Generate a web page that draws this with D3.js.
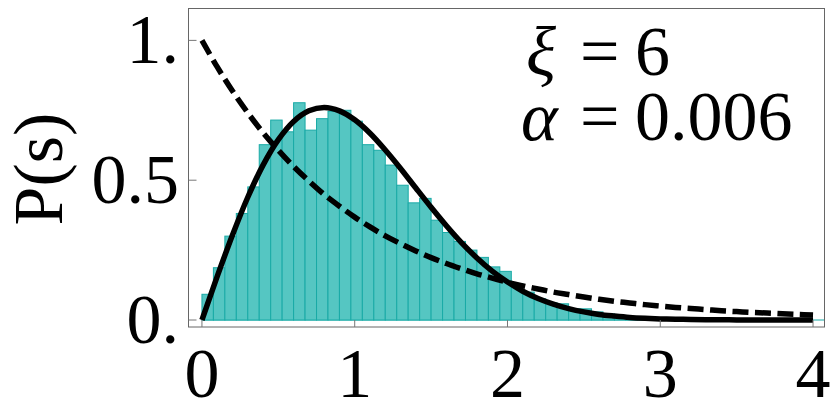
<!DOCTYPE html>
<html lang="en">
<head>
    <meta charset="UTF-8">
    <title>P(s) level spacing</title>
    <script src="https://d3js.org/d3.v7.min.js"></script>
    <style>
        body {
            margin: 0;
            background: #fff;
        }
        .bar {
            fill: #55c6c2;
            stroke: #19aaa6;
            stroke-width: 1;
        }
        .frame {
            fill: none;
            stroke: #666;
            stroke-width: 1;
        }
        .tick {
            stroke: #777;
            stroke-width: 1;
        }
    </style>
</head>
<body>
    <svg id="chart" width="830" height="413"></svg>

    <script>
        // histogram bins (width 0.075, starting at s = 0)
        const binWidth = 0.075;
        const binHeights = [
            0.092, 0.187, 0.300, 0.381, 0.476, 0.627, 0.715, 0.673, 0.777, 0.679,
            0.720, 0.746, 0.750, 0.711, 0.627, 0.607, 0.554, 0.482, 0.419, 0.435,
            0.357, 0.313, 0.281, 0.250, 0.224, 0.190, 0.174, 0.130, 0.100, 0.076,
            0.061, 0.058, 0.040, 0.040, 0.029, 0.022, 0.016, 0.011, 0.008, 0.005,
            0.003, 0.002, 0.001
        ];

        // curves sampled along s
        const sValues = [
            0.0, 0.1, 0.2, 0.3, 0.4, 0.5, 0.6, 0.7, 0.8, 0.9,
            1.0, 1.1, 1.2, 1.3, 1.4, 1.5, 1.6, 1.7, 1.8, 1.9,
            2.0, 2.1, 2.2, 2.3, 2.4, 2.5, 2.6, 2.7, 2.8, 2.9,
            3.0, 3.1, 3.2, 3.3, 3.4, 3.5, 3.6, 3.7, 3.8, 3.9, 4.0
        ];
        const solidCurve = [
            0.000, 0.156, 0.304, 0.439, 0.554, 0.645, 0.710, 0.748, 0.760, 0.748,
            0.716, 0.668, 0.608, 0.542, 0.472, 0.403, 0.337, 0.276, 0.222, 0.175,
            0.136, 0.103, 0.077, 0.057, 0.041, 0.029, 0.020, 0.014, 0.009, 0.006,
            0.004, 0.003, 0.002, 0.001, 0.001, 0.000, 0.000, 0.000, 0.000, 0.000, 0.000
        ];
        const dashedCurve = [
            1.000, 0.905, 0.819, 0.741, 0.670, 0.607, 0.549, 0.497, 0.449, 0.407,
            0.368, 0.333, 0.301, 0.273, 0.247, 0.223, 0.202, 0.183, 0.165, 0.150,
            0.135, 0.122, 0.111, 0.100, 0.091, 0.082, 0.074, 0.067, 0.061, 0.055,
            0.050, 0.045, 0.041, 0.037, 0.033, 0.030, 0.027, 0.025, 0.022, 0.020, 0.018
        ];

        const xTicks = [0, 1, 2, 3, 4];
        const xTickLabels = ["0", "1", "2", "3", "4"];
        const yTicks = [0, 0.5, 1];
        const yTickLabels = ["0.", "0.5", "1."];
        const yLabel = "P(s)";
        const annotation = [
            { sym: "\u03BE", val: "6" },
            { sym: "\u03B1", val: "0.006" }
        ];

        const serif = "'Liberation Serif', 'DejaVu Serif', serif";

        // frame and scales
        const frameL = 188.5, frameR = 824.5, frameT = 8.5, frameB = 327;
        const svg = d3.select("#chart");

        const x = d3.scaleLinear().domain([-0.088, 4.075]).range([frameL, frameR]);
        const y = d3.scaleLinear().domain([-0.025, 1.114]).range([frameB, frameT]);

        svg.append("defs").append("clipPath")
            .attr("id", "clip")
            .append("rect")
            .attr("x", frameL).attr("y", frameT)
            .attr("width", frameR - frameL).attr("height", frameB - frameT);

        const plot = svg.append("g").attr("clip-path", "url(#clip)");

        // teal baseline for the empty bins
        plot.append("line")
            .attr("x1", x(0)).attr("x2", frameR)
            .attr("y1", y(0)).attr("y2", y(0))
            .attr("stroke", "#19aaa6")
            .attr("stroke-width", 1.2);

        plot.selectAll(".bar")
            .data(binHeights)
            .enter()
            .append("rect")
            .attr("class", "bar")
            .attr("x", (d, i) => x(i * binWidth))
            .attr("width", (d, i) => x((i + 1) * binWidth) - x(i * binWidth))
            .attr("y", d => y(d))
            .attr("height", d => y(0) - y(d));

        const line = d3.line()
            .x((d, i) => x(sValues[i]))
            .y(d => y(d))
            .curve(d3.curveCatmullRom);

        plot.append("path")
            .attr("d", line(dashedCurve))
            .attr("fill", "none")
            .attr("stroke", "#000")
            .attr("stroke-width", 5.5)
            .attr("stroke-dasharray", "16,6.5");

        plot.append("path")
            .attr("d", line(solidCurve))
            .attr("fill", "none")
            .attr("stroke", "#000")
            .attr("stroke-width", 5.5);

        // frame
        svg.append("rect")
            .attr("class", "frame")
            .attr("x", frameL).attr("y", frameT)
            .attr("width", frameR - frameL).attr("height", frameB - frameT);

        // ticks
        svg.selectAll(".xtick")
            .data(xTicks)
            .enter()
            .append("line")
            .attr("class", "tick")
            .attr("x1", d => x(d)).attr("x2", d => x(d))
            .attr("y1", frameB).attr("y2", frameB - 7);

        svg.selectAll(".ytick")
            .data(yTicks)
            .enter()
            .append("line")
            .attr("class", "tick")
            .attr("x1", frameL).attr("x2", frameL + 8)
            .attr("y1", d => y(d)).attr("y2", d => y(d));

        // tick labels
        svg.selectAll(".xlabel")
            .data(xTicks)
            .enter()
            .append("text")
            .attr("x", d => x(d))
            .attr("y", 397)
            .attr("text-anchor", "middle")
            .attr("font-family", serif)
            .attr("font-size", 70)
            .text((d, i) => xTickLabels[i]);

        svg.selectAll(".ylabel")
            .data(yTicks)
            .enter()
            .append("text")
            .attr("x", 179)
            .attr("y", d => y(d))
            .attr("dy", "0.33em")
            .attr("text-anchor", "end")
            .attr("font-family", serif)
            .attr("font-size", 70)
            .text((d, i) => yTickLabels[i]);

        svg.append("text")
            .attr("transform", "translate(61.5,169) rotate(-90)")
            .attr("text-anchor", "middle")
            .attr("font-family", serif)
            .attr("font-size", 70)
            .text(yLabel);

        // parameter annotation, one text block with a tspan per piece
        const baselines = [75, 140];
        const symX = [526, 521];
        const note = svg.append("text")
            .attr("font-family", serif)
            .attr("font-size", 70);
        annotation.forEach((a, i) => {
            note.append("tspan")
                .attr("x", symX[i]).attr("y", baselines[i])
                .attr("font-style", "italic")
                .text(a.sym);
            note.append("tspan")
                .attr("x", 580).attr("y", baselines[i])
                .text("=");
            note.append("tspan")
                .attr("x", 635).attr("y", baselines[i])
                .text(a.val);
        });
    </script>
</body>
</html>
